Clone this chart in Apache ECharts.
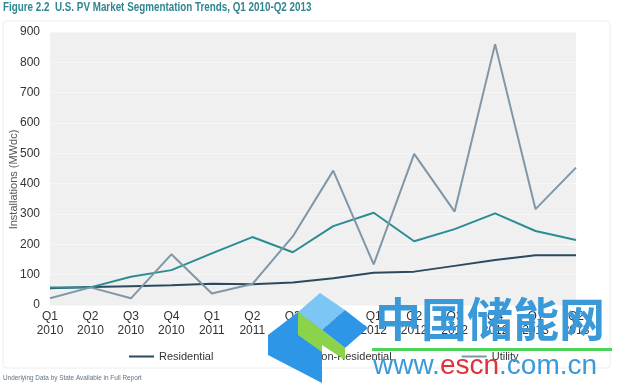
<!DOCTYPE html>
<html><head><meta charset="utf-8">
<script src="https://cdn.jsdelivr.net/npm/echarts@6/dist/echarts.min.js"></script>
<style>html,body{margin:0;padding:0;background:#fff}#c{width:620px;height:383px}</style>
</head><body><div id="c"></div>
<script>
const categories = ['Q1\n2010','Q2\n2010','Q3\n2010','Q4\n2010','Q1\n2011','Q2\n2011','Q3\n2011','Q4\n2011','Q1\n2012','Q2\n2012','Q3\n2012','Q4\n2012','Q1\n2013','Q2\n2013'];
const residential = [55, 59, 62, 65, 70, 68, 74, 88, 106, 110, 129, 148, 164, 164];
const nonResidential = [58, 58, 93, 115, 170, 224, 174, 260, 304, 210, 250, 302, 244, 214];
const utility = [22, 58, 22, 167, 38, 69, 226, 443, 134, 498, 308, 860, 316, 453];
const yTicks = [0, 100, 200, 300, 400, 500, 600, 700, 800, 900];

const FONT = '"Liberation Sans", Arial, sans-serif';
const chart = echarts.init(document.getElementById('c'));
chart.setOption({
  animation: false,
  backgroundColor: '#fff',
  textStyle: { fontFamily: FONT },
  grid: { left: 50, right: 44, top: 32, bottom: 78, show: true, backgroundColor: '#f0f0f0', borderWidth: 0, outerBoundsMode: 'none', containLabel: false },
  legend: {
    left: 124, top: 346, itemGap: 70, itemWidth: 25, itemHeight: 2,
    icon: 'rect',
    textStyle: { fontFamily: FONT, fontSize: 11, color: '#333' },
    data: ['Residential', 'Non-Residential', 'Utility']
  },
  xAxis: {
    type: 'category', data: categories, boundaryGap: false,
    axisLine: { show: false }, axisTick: { show: false },
    axisLabel: { fontFamily: FONT, fontSize: 12, color: '#333', lineHeight: 14, margin: 5, interval: 0 }
  },
  yAxis: {
    type: 'value', min: yTicks[0], max: yTicks[yTicks.length - 1], interval: 100,
    name: 'Installations (MWdc)', nameLocation: 'middle', nameGap: 31, nameRotate: 90, nameMoveOverlap: false,
    nameTextStyle: { fontFamily: FONT, fontSize: 11, color: '#555', padding: [0, 22, 0, 0] },
    axisLine: { show: false }, axisTick: { show: false },
    axisLabel: { fontFamily: FONT, fontSize: 12, color: '#333', margin: 10 },
    splitLine: { lineStyle: { color: '#f7f7f7', width: 1 } }
  },
  series: [
    { name: 'Residential', type: 'line', data: residential, symbol: 'none', lineStyle: { color: '#2b4a60', width: 2 }, itemStyle: { color: '#2b4a60' } },
    { name: 'Non-Residential', type: 'line', data: nonResidential, symbol: 'none', lineStyle: { color: '#2b8c92', width: 2 }, itemStyle: { color: '#2b8c92' } },
    { name: 'Utility', type: 'line', data: utility, symbol: 'none', lineStyle: { color: '#7f97a8', width: 2 }, itemStyle: { color: '#7f97a8' } }
  ],
  graphic: [
    { type: 'text', x: 3, y: 2, scaleX: 0.82, style: { text: 'Figure 2.2  U.S. PV Market Segmentation Trends, Q1 2010-Q2 2013', font: 'bold 12px ' + FONT, fill: '#2f8590' } },
    { type: 'rect', z: -10, shape: { x: 3, y: 21, width: 607, height: 347, r: 3 }, style: { fill: 'none', stroke: '#ececec', lineWidth: 1 } },
    { type: 'text', x: 3, y: 374, scaleX: 0.8, style: { text: 'Underlying Data by State Available in Full Report', font: '8px ' + FONT, fill: '#5f7283' } },
    // watermark
    { type: 'polygon', z: 100, shape: { points: [[298,312],[320,293],[345,310],[322,330]] }, style: { fill: '#7cc6f5' } },
    { type: 'polygon', z: 100, shape: { points: [[322,330],[345,310],[368,328],[345,348]] }, style: { fill: '#2e96e6' } },
    { type: 'polygon', z: 100, shape: { points: [[322,330],[345,348],[345,360],[322,345]] }, style: { fill: '#8bd34a' } },
    { type: 'polygon', z: 100, shape: { points: [[268,335],[298,312],[322,330],[322,383],[268,355]] }, style: { fill: '#2e96e6' } },
    { type: 'polygon', z: 100, shape: { points: [[298,312],[298,335],[322,352],[322,330]] }, style: { fill: '#8bd34a' } },
    { type: 'text', z: 101, x: 375, y: 296, style: { text: '中国储能网', font: 'bold 46px "Noto Sans CJK SC", sans-serif', fill: '#3a9ad9' } },
    { type: 'rect', z: 101, shape: { x: 372, y: 348, width: 240, height: 3 }, style: { fill: '#4cd45a' } },
    { type: 'text', z: 101, x: 373, y: 352, style: {
        rich: { a: { font: '28px "Liberation Sans", Arial, sans-serif', fill: '#3a9ad9' }, b: { font: '28px "Liberation Sans", Arial, sans-serif', fill: '#e0323c' } },
        text: '{a|www.}{b|escn}{a|.com.cn}' } }
  ]
});
</script></body></html>
